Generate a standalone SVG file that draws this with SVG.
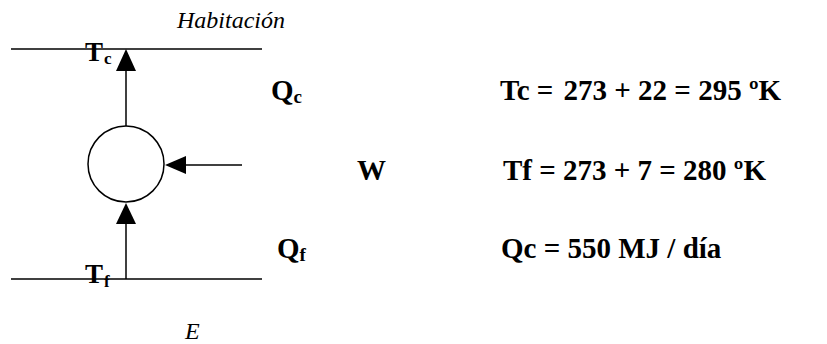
<svg xmlns="http://www.w3.org/2000/svg" width="827" height="344" viewBox="0 0 827 344">
<style>
.ln{stroke:#000;stroke-width:1.5;fill:none}
.ah{fill:#000;stroke:none}
.b{font-weight:bold;fill:#000}
.i{font-style:italic;fill:#000}
</style>
<rect width="827" height="344" fill="#fff"/>
<g font-family="Liberation Serif, Times New Roman, DejaVu Serif, serif">
<g id="room">
<line class="ln" x1="11" y1="49" x2="262" y2="49"/>
<text class="i" x="177" y="28" font-size="24">Habitación</text>
<text class="b" x="85" y="61" font-size="27">T<tspan font-size="17" dy="3" dx="1">c</tspan></text>
</g>
<g id="exterior">
<line class="ln" x1="11" y1="279" x2="262" y2="279"/>
<text class="i" x="185" y="339" font-size="24">E</text>
<text class="b" x="85" y="283" font-size="27">T<tspan font-size="17" dy="4" dx="1">f</tspan></text>
</g>
<g id="machine">
<circle class="ln" cx="126" cy="164" r="38"/>
</g>
<g id="connectors">
<line class="ln" x1="126" y1="68" x2="126" y2="126"/>
<polygon class="ah" points="126,49 116,71 136,71"/>
<line class="ln" x1="126" y1="222" x2="126" y2="279"/>
<polygon class="ah" points="126,203 116,224 136,224"/>
<line class="ln" x1="184" y1="165" x2="242" y2="165"/>
<polygon class="ah" points="165,165 186,156 186,174"/>
</g>
<g id="labels">
<text class="b" x="271" y="100" font-size="29">Q<tspan font-size="19" dy="3">c</tspan></text>
<text class="b" x="357" y="180" font-size="29">W</text>
<text class="b" x="277" y="258" font-size="29">Q<tspan font-size="19" dy="3">f</tspan></text>
</g>
<g id="data">
<text class="b" x="500" y="100" font-size="29">Tc = <tspan dx="3">273 + 22 = 295 ºK</tspan></text>
<text class="b" x="503" y="180" font-size="29">Tf = 273 + 7 = 280 ºK</text>
<text class="b" x="501" y="258" font-size="29">Qc = 550 MJ / día</text>
</g>
</g>
</svg>
